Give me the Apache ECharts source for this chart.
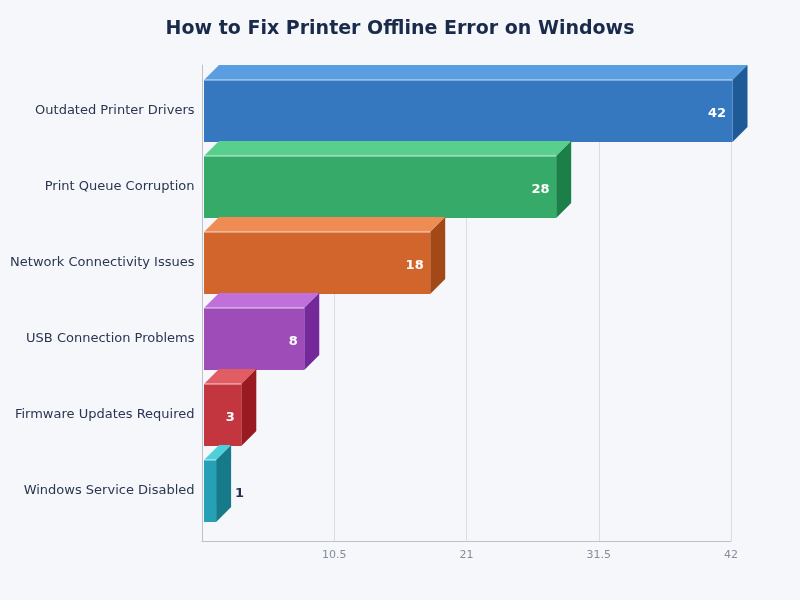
<!DOCTYPE html>
<html><head><meta charset="utf-8">
<script src="https://cdn.jsdelivr.net/npm/echarts@6/dist/echarts.min.js"></script>
<style>html,body{margin:0;padding:0;background:#f5f7fb}#c{width:800px;height:600px}</style>
</head><body><div id="c"></div>
<script>
const categories = ['Outdated Printer Drivers','Print Queue Corruption','Network Connectivity Issues','USB Connection Problems','Firmware Updates Required','Windows Service Disabled'];
const values = [42,28,18,8,3,1];
const frontColors = ['#3578c0','#36aa68','#d2652c','#9e4cb8','#c3363f','#26a0b4'];
const topColors = ['#5a9de0','#58cf8c','#ee8c54','#bf70da','#e25c64','#4ed0dc'];
const sideColors = ['#1f5a98','#1d7f48','#a34817','#74289a','#9a1a22','#167a8a'];
const title = 'How to Fix Printer Offline Error on Windows';

const chart = echarts.init(document.getElementById('c'), null, {renderer:'canvas'});
const D = 15, H = 62, SHIFT = 1.5;
function renderItem(params, api){
  const i = api.value(1), v = api.value(0);
  const p = api.coord([v,i]), p0 = api.coord([0,i]);
  const x0 = p0[0]+SHIFT+0.5, x1 = p[0]+SHIFT, yt = p[1]-H/2, yb = p[1]+H/2;
  const inside = x1-x0 > 20;
  return {type:'group',children:[
    {type:'polygon',shape:{points:[[x0,yt],[x1,yt],[x1+D,yt-D],[x0+D,yt-D]]},style:{fill:topColors[i]}},
    {type:'polygon',shape:{points:[[x1,yt],[x1+D,yt-D],[x1+D,yb-D],[x1,yb]]},style:{fill:sideColors[i]}},
    {type:'rect',shape:{x:x0,y:yt,width:x1-x0,height:H},style:{fill:frontColors[i]}},
    {type:'line',shape:{x1:x0,y1:yt,x2:x1,y2:yt},style:{stroke:'rgba(255,255,255,0.75)',lineWidth:1}},
    {type:'text',x:inside?x1-6.5:x1+D+4,y:p[1]+2.5,style:{text:String(v),fill:inside?'#ffffff':'#26324d',font:'bold 13px "DejaVu Sans"',textAlign:inside?'right':'left',textVerticalAlign:'middle'}}
  ]};
}
chart.setOption({
  backgroundColor:'#f5f7fb',
  animation:false,
  title:{text:title,left:'center',top:15,textStyle:{color:'#1a2a4a',fontFamily:'DejaVu Sans',fontWeight:'bold',fontSize:19}},
  grid:[
    {left:202,right:69,top:65,bottom:59},
    {left:202,right:69,top:73,bottom:71}
  ],
  xAxis:[
    {gridIndex:0,type:'value',min:0,max:42,interval:10.5,
      axisLine:{show:true,lineStyle:{color:'#bcc0ca'}},axisTick:{show:false},
      splitLine:{show:true,lineStyle:{color:'#d9dce3'}},
      axisLabel:{color:'#868c9c',fontFamily:'DejaVu Sans',fontSize:11,margin:9,formatter:v=>v===0?'':String(v)}},
    {gridIndex:1,type:'value',min:0,max:42,show:false}
  ],
  yAxis:[
    {gridIndex:0,type:'value',min:0,max:1,axisLine:{show:true,onZero:false,lineStyle:{color:'#bcc0ca'}},axisTick:{show:false},axisLabel:{show:false},splitLine:{show:false}},
    {gridIndex:1,type:'category',inverse:true,data:categories,axisLine:{show:false},axisTick:{show:false},
      axisLabel:{color:'#2a3650',fontFamily:'DejaVu Sans',fontSize:13,margin:7.5}}
  ],
  series:[{type:'custom',xAxisIndex:1,yAxisIndex:1,renderItem,clip:false,
    data:values.map((v,i)=>[v,i]),encode:{x:0,y:1}}]
});
</script></body></html>
